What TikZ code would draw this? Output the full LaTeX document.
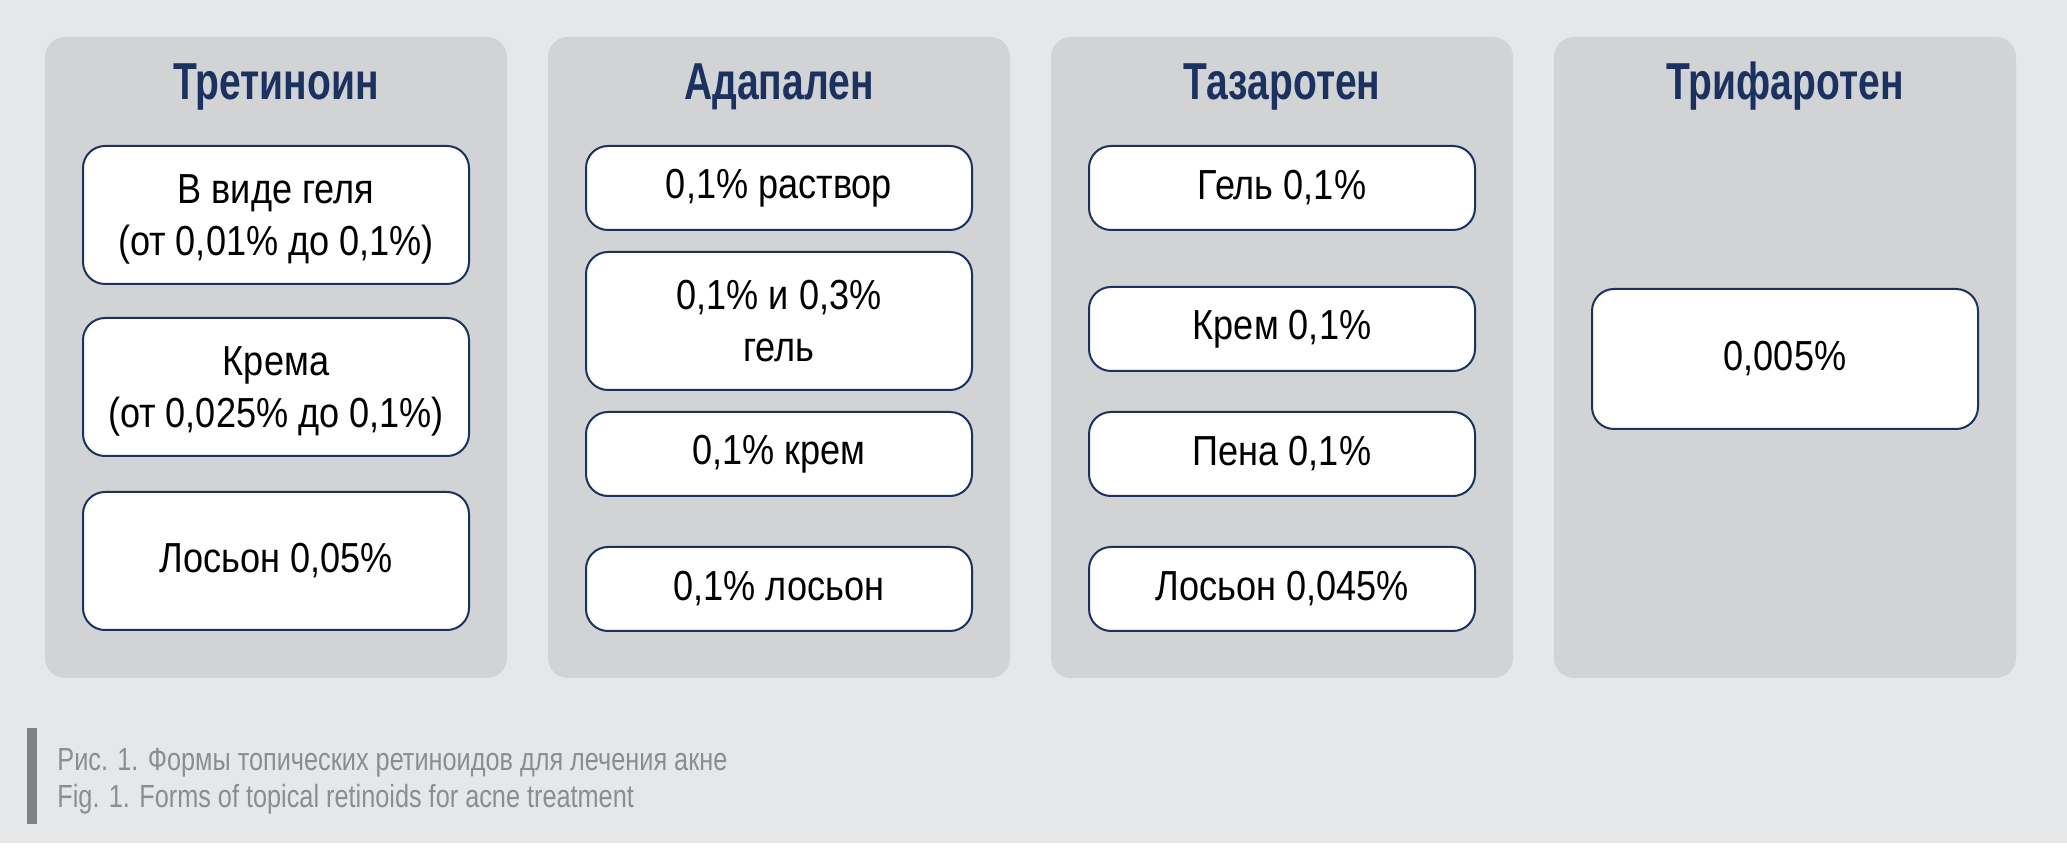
\documentclass[tikz,border=0pt]{standalone}
\usepackage{fontspec}
\setmainfont{Liberation Sans}[FakeStretch=0.86]
\newfontfamily\titlefont{Liberation Sans}[FakeStretch=0.75]
\newfontfamily\capfont{Liberation Sans}[FakeStretch=0.79]
\definecolor{bgfon}{HTML}{E6E7E9}
\definecolor{panelgray}{HTML}{D2D3D5}
\definecolor{navy}{HTML}{1B3260}
\definecolor{capgray}{HTML}{8C8D8F}
\definecolor{bargray}{HTML}{808183}
\tikzset{
  panel/.style={fill=panelgray, rounded corners=10pt},
  formbox/.style={draw=navy, line width=1pt, fill=white, rounded corners=11pt,
    minimum width=193pt, align=center, inner sep=0pt,
    font=\fontsize{21}{26}\selectfont},
  title/.style={anchor=base, text=navy, font=\titlefont\bfseries\fontsize{26}{30}\selectfont},
  caption/.style={anchor=base west, text=capgray, inner sep=0pt,
    font=\capfont\fontsize{16}{18}\selectfont},
}
\begin{document}
\begin{tikzpicture}[x=0.5pt,y=-0.5pt]
  % 背景
  \useasboundingbox (0,0) rectangle (2067,865);
  \fill[bgfon] (0,0) rectangle (2067,843);
  % 四个面板
  \foreach \i in {0,1,2,3}
    \fill[panel] (45+503*\i,37) rectangle (507+503*\i,678);
  % 标题
  \node[title] (tret) at (276,100) {Третиноин};
  \node[title] (adap) at (779,100) {Адапален};
  \node[title] (tazar) at (1282,100) {Тазаротен};
  \node[title] (trif) at (1785,100) {Трифаротен};
  % 第一列
  \node[formbox, minimum height=69pt, text depth=-1pt] (tret1) at (276,215) {В виде геля\\(от 0,01\% до 0,1\%)};
  \node[formbox, minimum height=69pt, text depth=-3pt] (tret2) at (276,387) {Крема\\(от 0,025\% до 0,1\%)};
  \node[formbox, minimum height=69pt] (tret3) at (276,561) {Лосьон 0,05\%};
  % 第二列
  \node[formbox, minimum height=42pt] (adap1) at (779,188) {0,1\% раствор};
  \node[formbox, minimum height=69pt] (adap2) at (779,321) {0,1\% и 0,3\%\\гель};
  \node[formbox, minimum height=42pt] (adap3) at (779,454) {0,1\% крем};
  \node[formbox, minimum height=42pt] (adap4) at (779,589) {0,1\% лосьон};
  % 第三列
  \node[formbox, minimum height=42pt] (tazar1) at (1282,188) {Гель 0,1\%};
  \node[formbox, minimum height=42pt] (tazar2) at (1282,329) {Крем 0,1\%};
  \node[formbox, minimum height=42pt] (tazar3) at (1282,454) {Пена 0,1\%};
  \node[formbox, minimum height=42pt] (tazar4) at (1282,589) {Лосьон 0,045\%};
  % 第四列
  \node[formbox, minimum height=70pt] (trif1) at (1785,359) {0,005\%};
  % 图注
  \fill[bargray] (27,728) rectangle (37,824);
  \node[caption] (capru) at (57,770) {Рис. 1. Формы топических ретиноидов для лечения акне};
  \node[caption] (capen) at (57,807) {Fig. 1. Forms of topical retinoids for acne treatment};
\end{tikzpicture}
\end{document}
